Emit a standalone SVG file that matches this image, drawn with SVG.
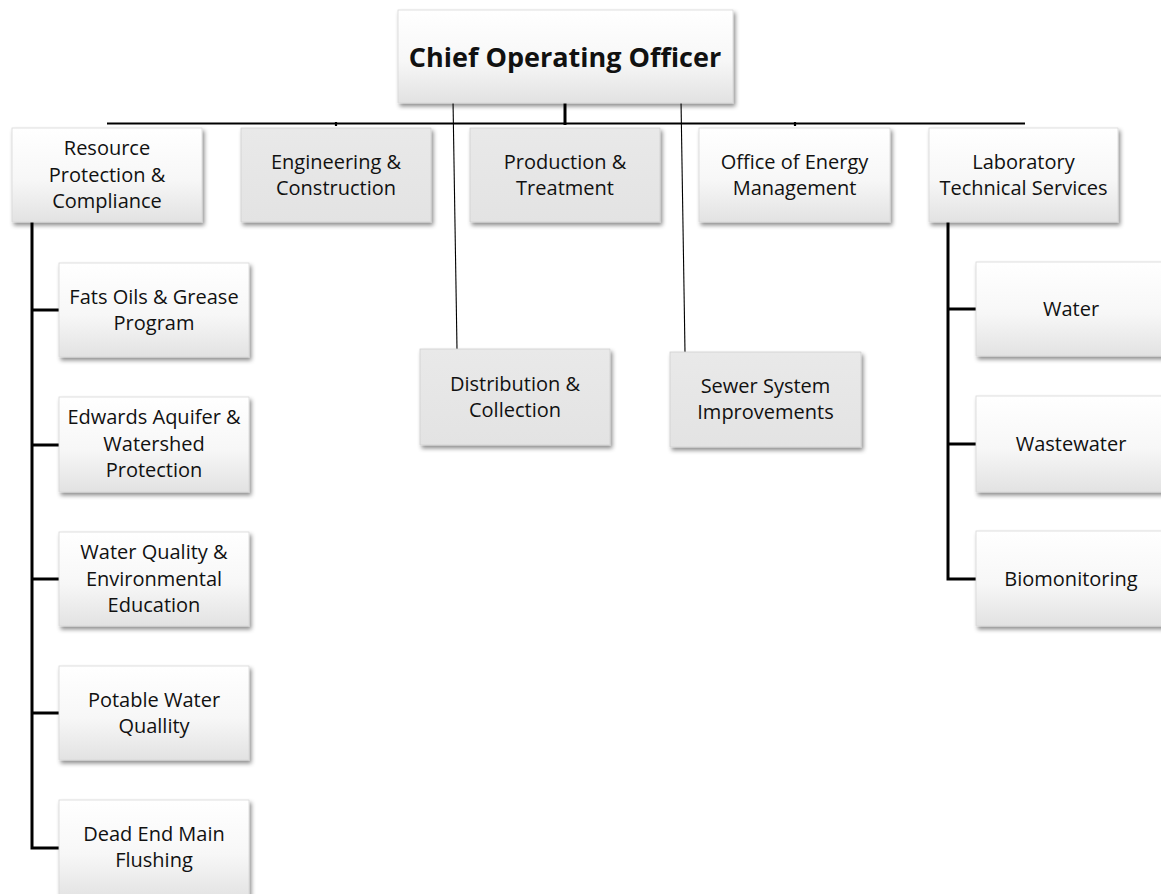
<svg xmlns="http://www.w3.org/2000/svg" width="1161" height="894" viewBox="0 0 1161 894">
<defs>
<linearGradient id="gw" x1="0" y1="0" x2="0" y2="1">
<stop offset="0" stop-color="#ffffff"/>
<stop offset="0.55" stop-color="#f7f7f7"/>
<stop offset="1" stop-color="#e2e2e2"/>
</linearGradient>
<linearGradient id="gg" x1="0" y1="0" x2="0" y2="1">
<stop offset="0" stop-color="#e9e9e9"/>
<stop offset="1" stop-color="#e3e3e3"/>
</linearGradient>
<filter id="sh" x="-10%" y="-10%" width="125%" height="130%">
<feDropShadow dx="2" dy="3" stdDeviation="2" flood-color="#000" flood-opacity="0.45"/>
</filter>
</defs>
<style>
.bw{fill:url(#gw);stroke:#d8d8d8;stroke-width:0.8;filter:url(#sh)}
.bg{fill:url(#gg);stroke:#d0d0d0;stroke-width:0.8;filter:url(#sh)}
text{font-family:"Open Sans","Liberation Sans",sans-serif;font-size:20px;fill:#111;text-anchor:middle}
.t{font-weight:bold;font-size:27px}
.thick{stroke:#000;stroke-width:3;fill:none}
.bus{stroke:#000;stroke-width:2.2;fill:none}
.thin{stroke:#000;stroke-width:1.1;fill:none}
</style>
<rect width="1161" height="894" fill="#fff"/>
<g id="connectors">
<line class="bus" x1="107" y1="123.5" x2="1025" y2="123.5"/>
<line class="thick" x1="565" y1="100" x2="565" y2="125"/>
<line class="bus" x1="336" y1="122" x2="336" y2="126"/>
<line class="bus" x1="795" y1="122" x2="795" y2="126"/>
<line class="thin" x1="453" y1="100" x2="457" y2="349"/>
<line class="thin" x1="681" y1="100" x2="685" y2="352"/>
<polyline class="thick" points="32,220 32,848 59,848"/>
<line class="thick" x1="32" y1="310" x2="59" y2="310"/>
<line class="thick" x1="32" y1="445" x2="59" y2="445"/>
<line class="thick" x1="32" y1="579" x2="59" y2="579"/>
<line class="thick" x1="32" y1="713" x2="59" y2="713"/>
<polyline class="thick" points="948,220 948,579 976,579"/>
<line class="thick" x1="948" y1="309" x2="976" y2="309"/>
<line class="thick" x1="948" y1="444" x2="976" y2="444"/>
</g>
<g id="coo"><rect class="bw" x="398" y="10" width="335" height="93"/><text class="t" x="565" y="67">Chief Operating Officer</text></g>
<g id="rpc"><rect class="bw" x="12" y="128" width="190" height="94"/><text x="107" y="155">Resource</text><text x="107" y="182">Protection &amp;</text><text x="107" y="208">Compliance</text></g>
<g id="eng"><rect class="bg" x="241" y="128" width="190" height="94"/><text x="336" y="169">Engineering &amp;</text><text x="336" y="195">Construction</text></g>
<g id="prod"><rect class="bg" x="470" y="128" width="190" height="94"/><text x="565" y="169">Production &amp;</text><text x="565" y="195">Treatment</text></g>
<g id="oem"><rect class="bw" x="699" y="128" width="191" height="94"/><text x="794.5" y="169">Office of Energy</text><text x="794.5" y="195">Management</text></g>
<g id="lab"><rect class="bw" x="929" y="128" width="189" height="94"/><text x="1023.5" y="169">Laboratory</text><text x="1023.5" y="195">Technical Services</text></g>
<g id="fog"><rect class="bw" x="59" y="263" width="190" height="94"/><text x="154" y="304">Fats Oils &amp; Grease</text><text x="154" y="330">Program</text></g>
<g id="eaw"><rect class="bw" x="59" y="397" width="190" height="95"/><text x="154" y="424">Edwards Aquifer &amp;</text><text x="154" y="451">Watershed</text><text x="154" y="477">Protection</text></g>
<g id="wqe"><rect class="bw" x="59" y="532" width="190" height="94"/><text x="154" y="559">Water Quality &amp;</text><text x="154" y="586">Environmental</text><text x="154" y="612">Education</text></g>
<g id="pwq"><rect class="bw" x="59" y="666" width="190" height="94"/><text x="154" y="707">Potable Water</text><text x="154" y="733">Quallity</text></g>
<g id="dem"><rect class="bw" x="59" y="800" width="190" height="100"/><text x="154" y="841">Dead End Main</text><text x="154" y="867">Flushing</text></g>
<g id="dc"><rect class="bg" x="420" y="349" width="190" height="96"/><text x="515" y="391">Distribution &amp;</text><text x="515" y="417">Collection</text></g>
<g id="ssi"><rect class="bg" x="670" y="352" width="191" height="95"/><text x="765.5" y="393">Sewer System</text><text x="765.5" y="419">Improvements</text></g>
<g id="water"><rect class="bw" x="976" y="262" width="190" height="94"/><text x="1071" y="316">Water</text></g>
<g id="ww"><rect class="bw" x="976" y="396" width="190" height="96"/><text x="1071" y="451">Wastewater</text></g>
<g id="bio"><rect class="bw" x="976" y="531" width="190" height="95"/><text x="1071" y="586">Biomonitoring</text></g>
</svg>
